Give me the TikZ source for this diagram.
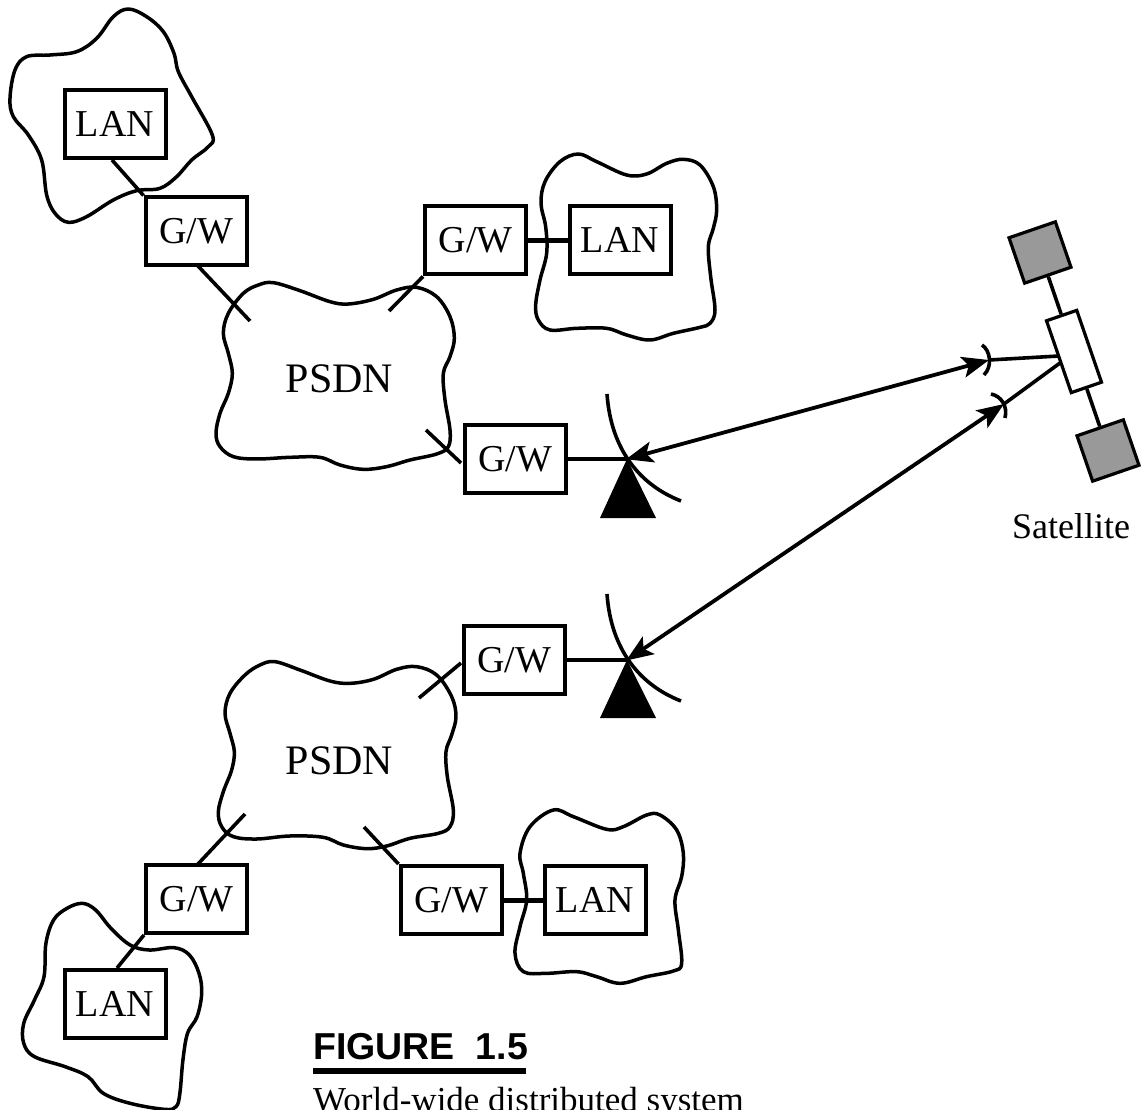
\documentclass[tikz,border=0pt]{standalone}
\usepackage{fontspec}
\setmainfont{Liberation Serif}
\newfontfamily\capsans{Liberation Sans}
\usetikzlibrary{arrows.meta}
\tikzset{
  netbox/.style={draw=black,line width=4pt,inner sep=0pt,minimum width=101pt,minimum height=68pt,
    font=\fontsize{38pt}{38pt}\selectfont,text height=25pt,text depth=0pt},
  cloudline/.style={line width=3.5pt,line join=round},
  wire/.style={line width=3.6pt},
  thickwire/.style={line width=5pt},
  beam/.style={line width=3.8pt,{Stealth[length=27pt,width=21pt,inset=6pt]}-{Stealth[length=27pt,width=21pt,inset=6pt]},shorten <=-1pt},
  dishline/.style={line width=3.6pt},
  panel/.style={draw=black,line width=3.2pt,fill=black!40,rotate=-71,minimum width=48pt,minimum height=49pt,inner sep=0pt},
  satbody/.style={draw=black,line width=3.2pt,fill=white,rotate=-71,minimum width=76pt,minimum height=32pt,inner sep=0pt},
  biglabel/.style={font=\fontsize{42pt}{42pt}\selectfont,anchor=base,inner sep=0pt},
  smoothcl/.style={smooth cycle,tension=0.6}
}
\begin{document}
\begin{tikzpicture}[x=1pt,y=-1pt]
\useasboundingbox (0,0) rectangle (1141,1110);
% clouds
\begin{scope}[shift={(0,0)},x=0.33333pt,y=-0.33333pt]
\draw[cloudline] plot[smoothcl] coordinates {(385,27)(440,50)(490,95)(522,160)(535,215)(575,290)(637,405)(625,440)(575,480)(530,530)(480,565)(410,572)(340,600)(260,650)(205,667)(165,640)(140,585)(125,480)(85,405)(40,350)(30,295)(45,210)(80,170)(150,165)(230,155)(290,115)(340,50)};
\end{scope}
\begin{scope}[shift={(380,110)},x=0.33333pt,y=-0.33333pt]
\draw[cloudline] plot[smoothcl] coordinates {(595,132)(650,155)(740,195)(800,192)(860,160)(910,148)(960,165)(1000,230)(1010,300)(1000,355)(985,410)(992,500)(1005,600)(990,640)(960,652)(880,670)(810,690)(740,675)(680,655)(590,655)(510,660)(475,630)(467,585)(480,510)(500,430)(497,350)(483,280)(495,215)(540,155)};
\end{scope}
\begin{scope}[shift={(190,260)},x=0.33333pt,y=-0.33333pt]
\draw[cloudline] plot[smoothcl] coordinates {(250,68)(330,92)(420,125)(475,132)(550,118)(620,90)(680,82)(740,110)(780,170)(793,235)(780,290)(760,340)(765,420)(780,510)(775,560)(740,582)(660,600)(590,620)(520,628)(450,615)(390,592)(300,592)(200,597)(130,590)(90,560)(78,520)(90,460)(115,400)(127,340)(115,280)(100,220)(115,160)(160,100)(205,75)};
\end{scope}
\begin{scope}[shift={(190,620)},x=0.33333pt,y=-0.33333pt]
\draw[cloudline] plot[smoothcl] coordinates {(255,125)(330,150)(420,183)(480,190)(550,178)(620,148)(680,140)(740,165)(785,230)(798,290)(785,345)(768,395)(772,470)(790,570)(780,620)(745,640)(660,655)(590,678)(530,686)(460,675)(400,652)(300,648)(200,657)(130,650)(95,620)(85,575)(100,515)(125,450)(133,395)(120,340)(105,280)(120,220)(165,165)(210,135)};
\end{scope}
\begin{scope}[shift={(380,790)},x=0.33333pt,y=-0.33333pt]
\draw[cloudline] plot[smoothcl] coordinates {(520,60)(580,80)(680,118)(730,110)(800,75)(840,75)(890,120)(910,190)(905,260)(885,330)(895,420)(905,520)(880,543)(800,560)(720,580)(650,560)(590,545)(500,550)(430,545)(405,490)(420,410)(440,330)(430,250)(420,190)(450,110)};
\end{scope}
\begin{scope}[shift={(0,880)},x=0.3827pt,y=-0.33333pt]
\draw[cloudline] plot[smoothcl] coordinates {(215,70)(250,90)(290,145)(340,195)(390,210)(455,203)(495,225)(520,280)(527,340)(515,410)(490,460)(478,540)(470,640)(460,680)(430,688)(340,670)(270,640)(230,590)(170,560)(90,530)(62,490)(62,430)(90,360)(115,290)(120,190)(140,120)(175,85)};
\end{scope}
% boxes
\node[netbox] (lan1) at (115,124.5) {LAN};
\node[netbox] (gw1)  at (196,231.5) {G/W};
\node[netbox] (gw2)  at (475.5,240.5) {G/W};
\node[netbox] (lan2) at (620,240.5) {LAN};
\node[netbox] (gw3)  at (515,459) {G/W};
\node[netbox] (gw4)  at (514,660) {G/W};
\node[netbox] (gw5)  at (196.5,899) {G/W};
\node[netbox] (gw6)  at (451,900) {G/W};
\node[netbox] (lan3) at (595,900) {LAN};
\node[netbox] (lan4) at (115,1003.5) {LAN};
\node[biglabel] (psdn1) at (339.5,392) {PSDN};
\node[biglabel] (psdn2) at (339.5,774) {PSDN};
% connector ends
\coordinate (lan1out) at (112,160);
\coordinate (gw1out) at (198,266);
\coordinate (psdn1a) at (250,321);
\coordinate (psdn1b) at (389,311);
\coordinate (psdn1c) at (426,430);
\coordinate (gw3in) at (461,463);
\coordinate (gw4in) at (461,663);
\coordinate (psdn2a) at (419,698);
\coordinate (psdn2b) at (245,814);
\coordinate (psdn2c) at (364,827);
\coordinate (gw5out) at (198,864);
\coordinate (lan4in) at (117,968);
\draw[wire] (lan1out) -- (gw1.north west);
\draw[wire] (gw1out) -- (psdn1a);
\draw[wire] (gw2.south west) -- (psdn1b);
\draw[wire] (psdn1c) -- (gw3in);
\draw[wire] (gw4in) -- (psdn2a);
\draw[wire] (gw5out) -- (psdn2b);
\draw[wire] (gw6.north west) -- (psdn2c);
\draw[wire] (gw5.south west) -- (lan4in);
\draw[thickwire] (gw2) -- (lan2);
\draw[thickwire] (gw6) -- (lan3);
% ground stations
\coordinate (ant1) at (627,459);
\coordinate (ant2) at (627,660);
\draw[wire] (gw3) -- (ant1);
\draw[wire] (gw4) -- (ant2);
\fill (ant1) -- (600,518) -- (656,518) -- cycle;
\fill (ant2) -- (600,718) -- (656,718) -- cycle;
\draw[dishline] (607,394) .. controls (611,450) and (640,485) .. (681,501);
\draw[dishline] (607,594) .. controls (611,650) and (640,685) .. (681,701);
% satellite
\node[satbody] (body) at (1074,351.5) {};
\node[panel] (panel1) at (1040,252.5) {};
\node[panel] (panel2) at (1108,450.5) {};
\draw[wire] (panel1) -- (body);
\draw[wire] (body) -- (panel2);
\node[font=\fontsize{36pt}{36pt}\selectfont,anchor=base,inner sep=0pt] (satlabel) at (1071,538) {Satellite};
\coordinate (sat1) at (1059,356);
\coordinate (sat2) at (1060,363);
\coordinate (rx1) at (989,360);
\coordinate (rx2) at (1004,404);
\draw[wire] (rx1) -- (sat1);
\draw[wire] (rx2) -- (sat2);
\draw[dishline] (982,345) .. controls (990,350) and (993,366) .. (984,375);
\draw[dishline] (991,394) .. controls (1001,396) and (1008,406) .. (1005,418);
\draw[beam] (ant1) -- (rx1);
\draw[beam] (ant2) -- (rx2);
% caption
\node[font=\capsans\bfseries\fontsize{37.5pt}{37.5pt}\selectfont,anchor=base west,inner sep=0pt] (figtitle) at (313,1059) {FIGURE\hspace{0.28em}\ 1.5};
\coordinate (ruleL) at (313,1071);
\coordinate (ruleR) at (526,1071);
\draw[line width=6pt] (ruleL) -- (ruleR);
\node[font=\fontsize{35pt}{35pt}\selectfont,anchor=base west,inner sep=0pt] (figcap) at (313,1111) {World-wide distributed system};
\end{tikzpicture}
\end{document}
